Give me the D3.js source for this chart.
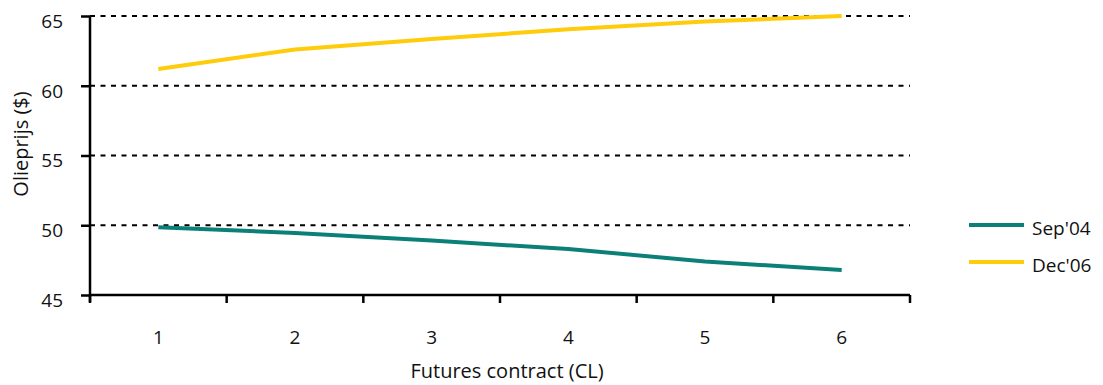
<!DOCTYPE html>
<html>
<head>
<meta charset="utf-8">
<script src="https://cdn.jsdelivr.net/npm/d3@7"></script>
<style>
  html, body { margin: 0; padding: 0; background: #fff; }
  svg { display: block; }
  text { font-family: "Open Sans", "Noto Sans", sans-serif; fill: #111; }
</style>
</head>
<body>
<svg id="chart" width="1103" height="385"></svg>
<script>
const categories = ["1", "2", "3", "4", "5", "6"];
const seriesNames = ["Sep'04", "Dec'06"];
const sep04 = [49.85, 49.45, 48.9, 48.3, 47.4, 46.8];
const dec06 = [61.2, 62.6, 63.35, 64.05, 64.6, 65.0];
const yTicks = [45, 50, 55, 60, 65];
const colors = ["#0b8078", "#fecc0a"];
const xTitle = "Futures contract (CL)";
const yTitle = "Olieprijs ($)";

const svg = d3.select("#chart");
const mLeft = 90, mRight = 910, mTop = 16, mBottom = 295;
const fs = 19;

const x = d3.scaleBand().domain(categories).range([mLeft, mRight]).padding(0);
const y = d3.scaleLinear().domain([45, 65]).range([mBottom, mTop]);

// gridlines
svg.append("g").selectAll("line").data(yTicks.filter(d => d > 45)).join("line")
  .attr("x1", mLeft).attr("x2", mRight)
  .attr("y1", d => y(d)).attr("y2", d => y(d))
  .attr("stroke", "#000").attr("stroke-width", 2)
  .attr("stroke-dasharray", "5,5.5");

// y axis
const yAxis = svg.append("g").attr("transform", `translate(${mLeft},0)`)
  .call(d3.axisLeft(y).tickValues(yTicks).tickSize(9).tickPadding(18).tickFormat(d3.format("d")));
yAxis.select(".domain").attr("stroke", "#000").attr("stroke-width", 2.5).attr("d", `M0,${mTop}V${mBottom + 7}`);
yAxis.selectAll(".tick line").attr("stroke", "#000").attr("stroke-width", 2.5);
yAxis.selectAll(".tick text").attr("font-size", fs).attr("font-family", "'Open Sans', sans-serif")
  .attr("fill", "#111").attr("dy", "0.6em");

// x axis
const xTickPos = categories.map(c => x(c)).concat([mRight]);
const xAxisG = svg.append("g");
xAxisG.append("line").attr("x1", mLeft).attr("x2", mRight).attr("y1", mBottom).attr("y2", mBottom)
  .attr("stroke", "#000").attr("stroke-width", 2.5);
xAxisG.selectAll("line.t").data(xTickPos).join("line").attr("class", "t")
  .attr("x1", d => d).attr("x2", d => d).attr("y1", mBottom).attr("y2", mBottom + 8)
  .attr("stroke", "#000").attr("stroke-width", 2.5);
xAxisG.selectAll("text").data(categories).join("text")
  .attr("x", d => x(d) + x.bandwidth() / 2).attr("y", 344)
  .attr("text-anchor", "middle").attr("font-size", fs).text(d => d);

// titles
svg.append("text").attr("x", 507).attr("y", 378).attr("text-anchor", "middle")
  .attr("font-size", 20).text(xTitle);
svg.append("text").attr("transform", "translate(28,144) rotate(-90)")
  .attr("text-anchor", "middle").attr("font-size", 20).text(yTitle);

// lines
const line = d3.line().x((d, i) => x(categories[i]) + x.bandwidth() / 2).y(d => y(d));
[sep04, dec06].forEach((s, k) => {
  svg.append("path").datum(s).attr("d", line).attr("fill", "none")
    .attr("stroke", colors[k]).attr("stroke-width", 4);
});

// legend
const legend = svg.append("g");
seriesNames.forEach((n, k) => {
  const ly = 225 + k * 37;
  legend.append("line").attr("x1", 969).attr("x2", 1024).attr("y1", ly).attr("y2", ly)
    .attr("stroke", colors[k]).attr("stroke-width", 4);
  legend.append("text").attr("x", 1032).attr("y", ly + 10).attr("font-size", fs).text(n);
});
</script>
</body>
</html>
